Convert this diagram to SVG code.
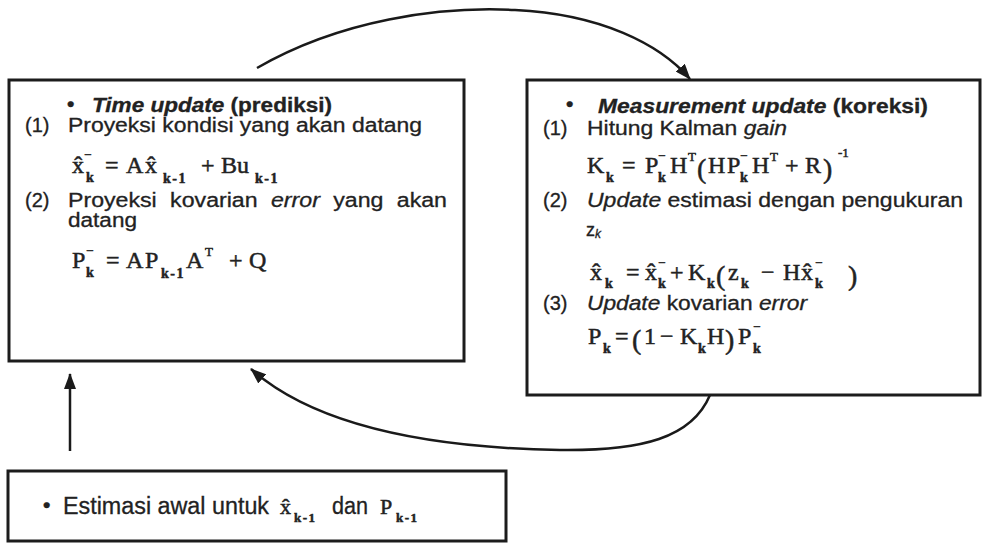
<svg xmlns="http://www.w3.org/2000/svg" width="983" height="544" viewBox="0 0 983 544">
<defs>
<style>
.box{fill:#fff;stroke:#1c1c1c;stroke-width:3}
.t{font-family:"Liberation Sans",Arial,sans-serif;font-size:20px;fill:#222;stroke:#222;stroke-width:0.3}
.b{font-weight:bold}
.i{font-style:italic}
.bl{font-size:21px;font-weight:bold}
.m{font-family:"Liberation Serif","Times New Roman",serif;font-size:24px;fill:#222;stroke:#222;stroke-width:0.5}
.sub{font-size:14px;font-weight:bold}
.sub2{font-size:14px;font-weight:bold;letter-spacing:1.5px}
.sup{font-size:13px}
.par{font-size:28px}
.conn{fill:none;stroke:#1a1a1a;stroke-width:2.5}
</style>
<marker id="ah" viewBox="0 0 16 12" refX="15" refY="6" markerWidth="16" markerHeight="12" markerUnits="userSpaceOnUse" orient="auto">
<path d="M0,0 L16,6 L0,12 z" fill="#1a1a1a"/>
</marker>
</defs>
<rect x="0" y="0" width="983" height="544" fill="#fff"/>

<g id="node-time-update">
<rect class="box" x="9" y="80" width="455" height="281"/>
<text class="t bl" x="67" y="111">•</text>
<text class="t b" x="92" y="112" textLength="240" lengthAdjust="spacingAndGlyphs"><tspan class="i">Time update</tspan> (prediksi)</text>
<text class="t" x="25" y="132">(1)</text>
<text class="t" x="68" y="132" textLength="354" lengthAdjust="spacingAndGlyphs">Proyeksi kondisi yang akan datang</text>
<text class="m"><tspan x="72" y="173">x̂</tspan><tspan class="sup" x="84" y="159">−</tspan><tspan class="sub" x="86" y="182">k</tspan><tspan x="105" y="173">=</tspan><tspan x="126" y="173">A</tspan><tspan x="145" y="173">x̂</tspan><tspan class="sub2" x="163" y="183">k-1</tspan><tspan x="201" y="173">+</tspan><tspan x="221" y="173">B</tspan><tspan x="237" y="173">u</tspan><tspan class="sub2" x="255" y="183">k-1</tspan></text>
<text class="t" x="25" y="207">(2)</text>
<text class="t" x="68" y="207" textLength="379" lengthAdjust="spacingAndGlyphs" word-spacing="6">Proyeksi kovarian <tspan class="i">error</tspan> yang akan</text>
<text class="t" x="68" y="227" textLength="69" lengthAdjust="spacingAndGlyphs">datang</text>
<text class="m"><tspan x="72" y="268">P</tspan><tspan class="sup" x="86" y="255">−</tspan><tspan class="sub" x="86" y="277">k</tspan><tspan x="106" y="268">=</tspan><tspan x="126" y="268">A</tspan><tspan x="145" y="268">P</tspan><tspan class="sub2" x="161" y="278">k-1</tspan><tspan x="186" y="268">A</tspan><tspan class="sup" x="205" y="256">T</tspan><tspan x="229" y="268">+</tspan><tspan x="249" y="268">Q</tspan></text>
</g>

<g id="node-measurement-update">
<rect class="box" x="527" y="80" width="453" height="315"/>
<text class="t bl" x="566" y="111">•</text>
<text class="t b" x="598" y="113" textLength="330" lengthAdjust="spacingAndGlyphs"><tspan class="i">Measurement update</tspan> (koreksi)</text>
<text class="t" x="543" y="135">(1)</text>
<text class="t" x="587" y="135" textLength="200" lengthAdjust="spacingAndGlyphs">Hitung Kalman <tspan class="i">gain</tspan></text>
<text class="m"><tspan x="587" y="173">K</tspan><tspan class="sub" x="606" y="182">k</tspan><tspan x="622" y="173">=</tspan><tspan x="645" y="173">P</tspan><tspan class="sup" x="658" y="160">−</tspan><tspan class="sub" x="658" y="182">k</tspan><tspan x="670" y="173">H</tspan><tspan class="sup" x="688" y="161">T</tspan><tspan class="par" x="697" y="178">(</tspan><tspan x="708" y="173">H</tspan><tspan x="727" y="173">P</tspan><tspan class="sup" x="740" y="160">−</tspan><tspan class="sub" x="740" y="182">k</tspan><tspan x="752" y="173">H</tspan><tspan class="sup" x="770" y="161">T</tspan><tspan x="785" y="173">+</tspan><tspan x="805" y="173">R</tspan><tspan class="par" x="823" y="178">)</tspan><tspan class="sup" x="838" y="157">-1</tspan></text>
<text class="t" x="543" y="207">(2)</text>
<text class="t" x="587" y="207" textLength="376" lengthAdjust="spacingAndGlyphs"><tspan class="i">Update</tspan> estimasi dengan pengukuran</text>
<text class="t" x="586" y="236" style="font-size:18px">z<tspan class="i" style="font-size:12px" dy="2">k</tspan></text>
<text class="m"><tspan x="590" y="280">x̂</tspan><tspan class="sub" x="605" y="288">k</tspan><tspan x="626" y="280">=</tspan><tspan x="645" y="280">x̂</tspan><tspan class="sup" x="658" y="267">−</tspan><tspan class="sub" x="658" y="288">k</tspan><tspan x="670" y="280">+</tspan><tspan x="688" y="280">K</tspan><tspan class="sub" x="707" y="288">k</tspan><tspan class="par" x="716" y="285">(</tspan><tspan x="728" y="280">z</tspan><tspan class="sub" x="741" y="288">k</tspan><tspan x="761" y="280">−</tspan><tspan x="783" y="280">H</tspan><tspan x="801" y="280">x̂</tspan><tspan class="sup" x="815" y="267">−</tspan><tspan class="sub" x="815" y="288">k</tspan><tspan class="par" x="848" y="285">)</tspan></text>
<text class="t" x="543" y="310">(3)</text>
<text class="t" x="587" y="310" textLength="220" lengthAdjust="spacingAndGlyphs"><tspan class="i">Update</tspan> kovarian <tspan class="i">error</tspan></text>
<text class="m"><tspan x="588" y="344">P</tspan><tspan class="sub" x="603" y="353">k</tspan><tspan x="615" y="344">=</tspan><tspan class="par" x="632" y="349">(</tspan><tspan x="644" y="344">1</tspan><tspan x="660" y="344">−</tspan><tspan x="680" y="344">K</tspan><tspan class="sub" x="698" y="353">k</tspan><tspan x="707" y="344">H</tspan><tspan class="par" x="725" y="349">)</tspan><tspan x="738" y="344">P</tspan><tspan class="sup" x="753" y="331">−</tspan><tspan class="sub" x="753" y="353">k</tspan></text>
</g>

<g id="node-initial-estimate">
<rect class="box" x="8" y="471" width="498" height="70"/>
<text class="t bl" x="43" y="512">•</text>
<text class="t" x="63" y="514" style="font-size:23px" textLength="206" lengthAdjust="spacingAndGlyphs">Estimasi awal untuk</text>
<text class="m" style="font-size:22px"><tspan x="280" y="514">x̂</tspan><tspan class="sub2" x="294" y="522" style="font-size:13px">k-1</tspan></text>
<text class="t" x="332" y="514" style="font-size:23px" textLength="36" lengthAdjust="spacingAndGlyphs">dan</text>
<text class="m" style="font-size:22px"><tspan x="380" y="514">P</tspan><tspan class="sub2" x="396" y="522" style="font-size:13px">k-1</tspan></text>
</g>

<g id="connectors">
<path class="conn" d="M257,68 C340,20 440,6 515,10 C600,14 660,44 690,79" marker-end="url(#ah)"/>
<path class="conn" d="M710,395 C692,438 642,451 560,450 C440,448 320,430 251,369" marker-end="url(#ah)"/>
<path class="conn" d="M70,451 L70,374" marker-end="url(#ah)"/>
</g>
</svg>
